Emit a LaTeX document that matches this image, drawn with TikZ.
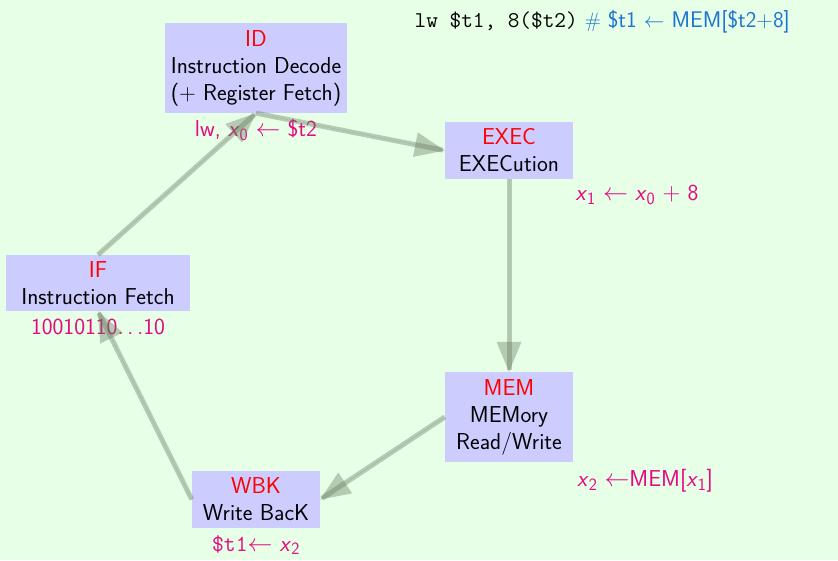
\documentclass[tikz,border=0pt]{standalone}
\usepackage{amsmath}
\usetikzlibrary{arrows.meta}
\definecolor{bgc}{RGB}{230,255,230}
\definecolor{boxc}{RGB}{204,204,255}
\definecolor{labc}{RGB}{228,10,130}
\definecolor{topc}{RGB}{30,115,210}
\definecolor{arrc}{RGB}{100,118,92}
\newcommand{\xv}[1]{\textit{x}$_{\mathsf{#1}}$}
\newcommand{\conn}[2]{\draw[shaft] (#1) -- (#2); \draw[headonly] (#1) -- (#2);}
\begin{document}
\begin{tikzpicture}[x=1pt,y=-1pt,
  font=\sffamily\fontsize{23}{27}\selectfont,
  stage/.style={fill=boxc, inner sep=0pt, align=center},
  lab/.style={text=labc, inner sep=0pt},
  shaft/.style={draw=arrc, opacity=0.38, line width=5pt, shorten >=2pt},
  headonly/.style={draw=arrc, fill=arrc, opacity=0.38, line width=0.01pt,
    -{Triangle[length=30pt,width=25pt,line width=0pt]}}]
\fill[bgc] (0,0) rectangle (838,560);
\useasboundingbox (0,0) rectangle (838,560);

\node[stage, minimum width=182pt, minimum height=90pt] (id) at (256,68)
  {{\color{red}ID}\\Instruction Decode\\(+ Register Fetch)};
\node[stage, minimum width=128pt, minimum height=57pt] (ex) at (509,150.5)
  {{\color{red}EXEC}\\EXECution};
\node[stage, minimum width=184pt, minimum height=56pt] (if) at (98,283)
  {{\color{red}IF}\\Instruction Fetch};
\node[stage, minimum width=128pt, minimum height=90pt] (mem) at (509,417)
  {{\color{red}MEM}\\MEMory\\Read/Write};
\node[stage, minimum width=128pt, minimum height=57pt] (wb) at (256,499.5)
  {{\color{red}WBK}\\Write BacK};

\node[lab] (idl) at (256,130) {lw, \xv{0} $\leftarrow$ \$t2};
\node[lab] (exl) at (637,195) {\xv{1} $\leftarrow$ \xv{0} $+$ 8};
\node[lab] (ifl) at (98,327) {10010110.\kern.17em.\kern.17em.10};
\node[lab] (meml) at (645,481) {\xv{2} $\leftarrow$MEM[\xv{1}]};
\node[lab] (wbl) at (256,545) {\texttt{\$t1}$\leftarrow$ \xv{2}};

\node[anchor=base east, inner sep=0pt, font=\sffamily\fontsize{22.6}{27}\selectfont] (top) at (790,27)
  {\texttt{lw \$t1, 8(\$t2)} {\color{topc}$\#$ \$t1 $\leftarrow$ MEM[\$t2+8]}};

\conn{if.north}{id.south}
\conn{id.south}{ex.west}
\conn{ex.south}{mem.north}
\conn{mem.west}{wb.east}
\conn{wb.west}{if.south}
\end{tikzpicture}
\end{document}
